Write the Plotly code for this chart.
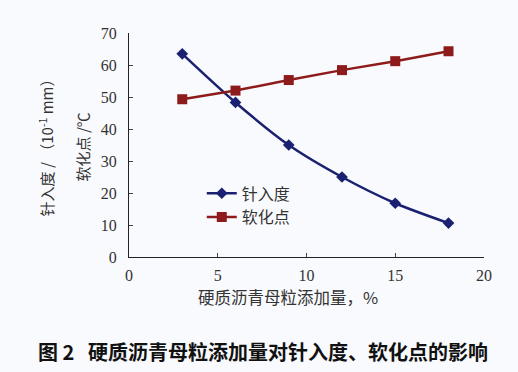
import plotly.graph_objects as go

x_add = [3, 6, 9, 12, 15, 18]
penetration = [63.5, 48.3, 35.0, 25.0, 16.8, 10.6]
softening = [49.3, 52.0, 55.3, 58.4, 61.2, 64.3]
x_ticks = [0, 5, 10, 15, 20]
y_ticks = [0, 10, 20, 30, 40, 50, 60, 70]

name_pen = "针入度"
name_soft = "软化点"
x_title = "硬质沥青母粒添加量，%"
y_title_1 = "针入度 / （10<sup>-1</sup> mm）"
y_title_2 = "软化点 /℃"
caption = "图 2   硬质沥青母粒添加量对针入度、软化点的影响"

blue = "#1a2170"
red = "#8e1b1b"
serif = "Liberation Serif, Noto Sans CJK SC, serif"
cjk = "Noto Sans CJK SC"

fig = go.Figure()
fig.add_trace(go.Scatter(
    x=x_add, y=penetration, name=name_pen, mode="lines+markers",
    line=dict(color=blue, width=2.5, shape="spline", smoothing=0.8),
    marker=dict(symbol="diamond", size=9, color=blue),
))
fig.add_trace(go.Scatter(
    x=x_add, y=softening, name=name_soft, mode="lines+markers",
    line=dict(color=red, width=2.5),
    marker=dict(symbol="square", size=10, color=red),
))

bg = "#f9fafd"
fig.update_layout(
    width=518, height=372,
    margin=dict(l=129, r=34, t=33, b=115),
    paper_bgcolor=bg, plot_bgcolor=bg,
    font=dict(family=serif, size=16, color="#333"),
    showlegend=True,
    legend=dict(x=0.205, y=0.36, xanchor="left", yanchor="top",
                bgcolor="rgba(0,0,0,0)", font=dict(size=16, family=cjk, color="#333"),
                tracegroupgap=0, itemwidth=30),
    xaxis=dict(range=[0, 20], tickvals=x_ticks, ticks="inside", ticklen=4,
               showline=True, linecolor="#222", linewidth=1.2, showgrid=False,
               zeroline=False, ticklabelstandoff=4,
               tickfont=dict(family=serif, size=16, color="#333")),
    yaxis=dict(range=[0, 70], tickvals=y_ticks, ticks="inside", ticklen=4,
               showline=True, linecolor="#222", linewidth=1.2, showgrid=False,
               zeroline=False, ticklabelstandoff=8,
               tickfont=dict(family=serif, size=16, color="#333")),
)

fig.add_annotation(text=y_title_1, xref="paper", yref="paper", x=-0.233, y=0.504,
                   xanchor="center", yanchor="middle",
                   textangle=-90, showarrow=False, font=dict(size=15, family=cjk, color="#333"))
fig.add_annotation(text=y_title_2, xref="paper", yref="paper", x=-0.132, y=0.49,
                   xanchor="center", yanchor="middle",
                   textangle=-90, showarrow=False, font=dict(size=15, family=cjk, color="#333"))
fig.add_annotation(text=x_title, xref="paper", yref="paper", x=0.448, y=-0.179,
                   xanchor="center", yanchor="middle",
                   showarrow=False, font=dict(size=16.5, family=cjk, color="#333"))
fig.add_annotation(text="<b>" + caption + "</b>", xref="paper", yref="paper", x=0.377, y=-0.424,
                   xanchor="center", yanchor="middle",
                   showarrow=False, font=dict(size=20, family=cjk, color="#111"))

fig.write_html("out.html")
